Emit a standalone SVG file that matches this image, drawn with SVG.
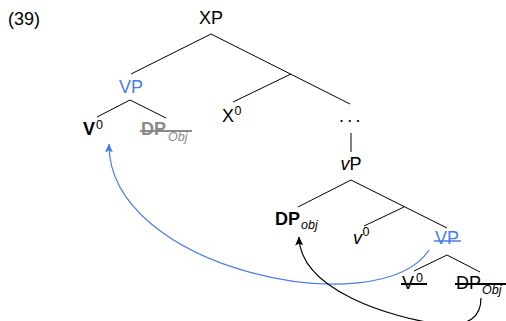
<svg xmlns="http://www.w3.org/2000/svg" width="506" height="321" viewBox="0 0 506 321">
<style>
text{font-family:"Liberation Sans",Arial,sans-serif;font-size:18px;fill:#000}
.b{font-weight:bold}
.i{font-style:italic}
.s{font-size:12.5px}
.blue{fill:#4a7ce6}
.gray{fill:#8a8a8a}
.edge{stroke:#000;stroke-width:1;fill:none}
.strk{stroke:#000;stroke-width:2}
</style>
<defs>
<marker id="ahk" markerUnits="userSpaceOnUse" markerWidth="9" markerHeight="8" viewBox="0 0 9 8" refX="8.5" refY="4" orient="auto">
<path d="M0,0 L9,4 L0,8 L2,4 z" fill="#000"/>
</marker>
<marker id="ahb" markerUnits="userSpaceOnUse" markerWidth="9" markerHeight="8" viewBox="0 0 9 8" refX="8.5" refY="4" orient="auto">
<path d="M0,0 L9,4 L0,8 L2,4 z" fill="#4a7ce6"/>
</marker>
</defs>
<text x="8" y="25">(39)</text>
<g id="connectors">
<line class="edge" x1="211" y1="34" x2="131" y2="74"/>
<line class="edge" x1="211" y1="34" x2="350" y2="104"/>
<line class="edge" x1="291" y1="74" x2="233" y2="102"/>
<line class="edge" x1="130" y1="100" x2="97" y2="117"/>
<line class="edge" x1="130" y1="100" x2="166" y2="118"/>
<line class="edge" x1="351" y1="133" x2="351" y2="152"/>
<line class="edge" x1="351" y1="180" x2="298" y2="207"/>
<line class="edge" x1="351" y1="180" x2="447" y2="228"/>
<line class="edge" x1="404" y1="207" x2="364" y2="226"/>
<line class="edge" x1="447" y1="255" x2="414" y2="271"/>
<line class="edge" x1="447" y1="255" x2="480" y2="272"/>
<path d="M429,250 C380,325 108,270 109,144" fill="none" stroke="#4a7ce6" stroke-width="1.2" marker-end="url(#ahb)"/>
<path d="M481,298 C481,318 468,325 445,325 C390,318 300,290 299,237" fill="none" stroke="#000" stroke-width="1.2" marker-end="url(#ahk)"/>
</g>
<g id="XP"><text x="211" y="24" text-anchor="middle">XP</text></g>
<g id="VP"><text class="blue" x="131" y="93" text-anchor="middle">VP</text></g>
<g id="V0"><text class="b" x="83" y="135">V</text><text class="s" x="96" y="128.5">0</text></g>
<g id="DPObj1"><text class="b gray" x="141" y="135">DP</text><text class="s i gray" x="168" y="141">Obj</text><line x1="140" y1="131" x2="192" y2="131" stroke="#8a8a8a" stroke-width="2"/></g>
<g id="X0"><text x="222" y="122">X</text><text class="s" x="234.5" y="114.5">0</text></g>
<g id="dots"><text x="339" y="122" letter-spacing="3.3">...</text></g>
<g id="vP"><text x="351" y="170" text-anchor="middle"><tspan class="i">v</tspan>P</text></g>
<g id="DPobj"><text class="b" x="275" y="225">DP</text><text class="s i" x="301" y="229">obj</text></g>
<g id="v0"><text class="i" x="353" y="244">v</text><text class="s" x="362.5" y="236">0</text></g>
<g id="VP2"><text class="blue" x="447" y="244" text-anchor="middle">VP</text><line x1="434" y1="241" x2="461" y2="241" stroke="#4a7ce6" stroke-width="1.5"/></g>
<g id="V0b"><text x="402" y="289">V</text><text class="s" x="416" y="281.5">0</text><line class="strk" x1="401" y1="284" x2="427" y2="284"/></g>
<g id="DPObj2"><text x="456" y="289">DP</text><text class="s i" x="482" y="294">Obj</text><line class="strk" x1="455" y1="284" x2="506" y2="284"/></g>
</svg>
